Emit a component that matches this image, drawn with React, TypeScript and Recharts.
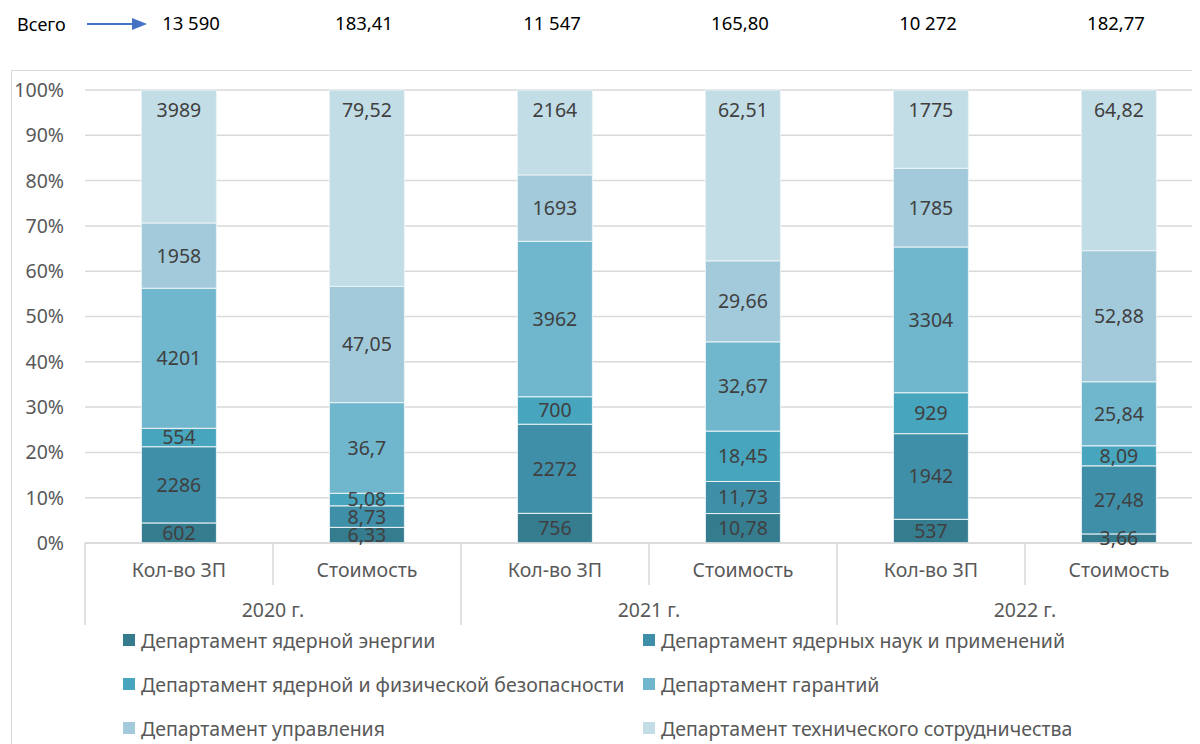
import React from 'react';
import {
  BarChart,
  Bar,
  XAxis,
  YAxis,
  CartesianGrid,
  Legend,
  LabelList
} from 'recharts';

// категории и годы
const categories = ['Кол-во ЗП', 'Стоимость', 'Кол-во ЗП', 'Стоимость', 'Кол-во ЗП', 'Стоимость'];
const years = ['2020 г.', '2020 г.', '2021 г.', '2021 г.', '2022 г.', '2022 г.'];
const totals = ['13 590', '183,41', '11 547', '165,80', '10 272', '182,77'];

// значения по департаментам
const nuclearEnergy = [602, 6.33, 756, 10.78, 537, 3.66];
const nuclearSciences = [2286, 8.73, 2272, 11.73, 1942, 27.48];
const nuclearSecurity = [554, 5.08, 700, 18.45, 929, 8.09];
const safeguards = [4201, 36.7, 3962, 32.67, 3304, 25.84];
const management = [1958, 47.05, 1693, 29.66, 1785, 52.88];
const technicalCooperation = [3989, 79.52, 2164, 62.51, 1775, 64.82];

const series = [
  { key: 'energy', name: 'Департамент ядерной энергии', color: '#367C8F', values: nuclearEnergy },
  { key: 'sciences', name: 'Департамент ядерных наук и применений', color: '#3F8FA8', values: nuclearSciences },
  { key: 'security', name: 'Департамент ядерной и физической безопасности', color: '#47A5BD', values: nuclearSecurity },
  { key: 'safeguards', name: 'Департамент гарантий', color: '#70B6CD', values: safeguards },
  { key: 'management', name: 'Департамент управления', color: '#A3CADB', values: management },
  { key: 'tc', name: 'Департамент технического сотрудничества', color: '#C3DDE6', values: technicalCooperation }
];

const data = categories.map((cat, i) => {
  const row: any = { id: 'c' + i, cat, year: years[i], total: totals[i] };
  series.forEach(s => { row[s.key] = s.values[i]; });
  return row;
});

const FONT = 19.5;

const fmt = (v: any) => String(v).replace('.', ',');

const XTick = (props: any) => {
  const { x, y, payload, index } = props;
  const half = payload && payload.offset ? payload.offset : 94;
  const even = index % 2 === 0;
  const last = index === data.length - 1;
  return (
    <g>
      <line x1={x - half} y1={y} x2={x - half} y2={y + (even ? 82 : 42)} stroke="#D9D9D9" strokeWidth={1.5} />
      {last && <line x1={x + half} y1={y} x2={x + half} y2={y + 82} stroke="#D9D9D9" strokeWidth={1.5} />}
      <text x={x} y={y + 29} textAnchor="middle" dominantBaseline="middle" fill="#595959" fontSize={FONT}>
        {data[index].cat}
      </text>
      {even && (
        <text x={x + half} y={y + 69} textAnchor="middle" dominantBaseline="middle" fill="#595959" fontSize={FONT}>
          {data[index].year}
        </text>
      )}
    </g>
  );
};

// итоги над столбцами, первый чуть сдвинут вправо от стрелки
const TopTick = (props: any) => {
  const { x, y, index } = props;
  return (
    <text x={x + (index === 0 ? 12 : -3)} y={y} textAnchor="middle" fill="#000" fontSize={18.5}>
      {data[index].total}
    </text>
  );
};

const renderLegend = (props: any) => {
  const order = series.map(s => s.name);
  const payload = [...(props.payload || [])].sort(
    (a: any, b: any) => order.indexOf(a.value) - order.indexOf(b.value)
  );
  return (
    <div style={{ display: 'grid', gridTemplateColumns: '520px 520px' }}>
      {payload.map((entry: any) => (
        <div key={entry.value} style={{ display: 'flex', alignItems: 'center', height: 44, color: '#595959', fontSize: FONT, whiteSpace: 'nowrap' }}>
          <span style={{ width: 12, height: 12, background: entry.color, marginRight: 6, display: 'inline-block' }} />
          {entry.value}
        </div>
      ))}
    </div>
  );
};

const App: React.FC = () => {
  return (
    <div style={{ position: 'relative', width: 1192, height: 736, overflow: 'hidden', fontFamily: 'Noto Sans' }}>
      <div style={{ position: 'absolute', left: 3, top: 62, width: 1300, height: 800, border: '1.5px solid #D9D9D9' }} />
      <div style={{ position: 'absolute', left: 9, top: 4, fontSize: 18, color: '#000' }}>Всего</div>
      <svg style={{ position: 'absolute', left: 78, top: 8 }} width={64} height={16}>
        <line x1={1} y1={8} x2={48} y2={8} stroke="#4472C4" strokeWidth={2} />
        <polygon points="46,2 61,8 46,14" fill="#4472C4" />
      </svg>
      <div style={{ position: 'absolute', left: 0, top: 0 }}>
        <BarChart
          width={1230}
          height={736}
          data={data}
          stackOffset="expand"
          barCategoryGap="30%"
          margin={{ top: 0, right: 25, left: 0, bottom: 111 }}
        >
          <CartesianGrid vertical={false} stroke="#D9D9D9" strokeWidth={1.5} />
          <XAxis
            xAxisId="top"
            orientation="top"
            dataKey="id"
            height={82}
            axisLine={false}
            tickLine={false}
            tickSize={0}
            tickMargin={60}
            tick={<TopTick />}
            interval={0}
          />
          <XAxis
            dataKey="id"
            height={90}
            axisLine={{ stroke: '#D9D9D9', strokeWidth: 1.5 }}
            tickLine={false}
            tickSize={0}
            tickMargin={0}
            tick={<XTick />}
            interval={0}
          />
          <YAxis
            width={77}
            domain={[0, 1]}
            ticks={[0, 0.1, 0.2, 0.3, 0.4, 0.5, 0.6, 0.7, 0.8, 0.9, 1]}
            tickFormatter={(v: number) => `${Math.round(v * 100)}%`}
            axisLine={false}
            tickLine={false}
            tickSize={0}
            tickMargin={21}
            tick={{ fill: '#595959', fontSize: FONT }}
          />
          <Legend
            layout="horizontal"
            verticalAlign="middle"
            align="center"
            wrapperStyle={{ top: 610, left: 115, width: 1100 }}
            content={renderLegend}
          />
          {series.map((s, idx) => (
            <Bar
              key={s.key}
              dataKey={s.key}
              name={s.name}
              stackId="a"
              fill={s.color}
              stroke="#EAF3F6"
              strokeWidth={1}
              isAnimationActive={false}
            >
              <LabelList
                dataKey={s.key}
                position={idx === series.length - 1 ? 'insideTop' : 'center'}
                offset={13}
                formatter={fmt}
                fill="#404040"
                fontSize={FONT}
              />
            </Bar>
          ))}
        </BarChart>
      </div>
    </div>
  );
};

export default App;
